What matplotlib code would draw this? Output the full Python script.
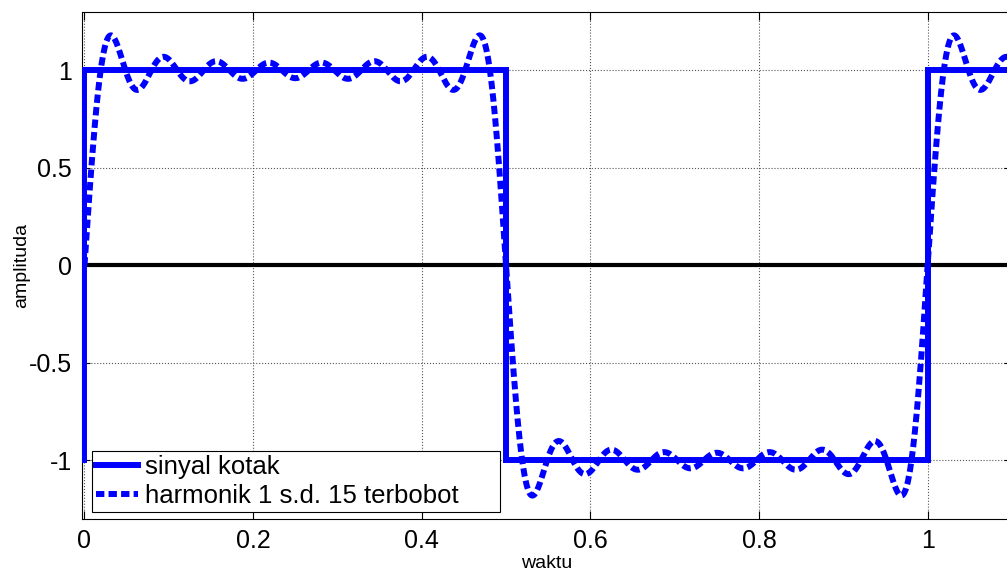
import numpy as np
import matplotlib
matplotlib.use("Agg")
import matplotlib.pyplot as plt

plt.rcParams['font.family'] = ['Liberation Sans', 'DejaVu Sans']

# sinyal kotak (titik sudut)
waktu_kotak = [0, 0, 0.5, 0.5, 1.0, 1.0, 1.1]
nilai_kotak = [-1, 1, 1, -1, -1, 1, 1]

# harmonik ganjil 1 s.d. 15 dan bobotnya (4/(pi*k))
harmonik = [1, 3, 5, 7, 9, 11, 13, 15]
bobot = [1.2732, 0.4244, 0.2546, 0.1819, 0.1415, 0.1157, 0.0979, 0.0849]

x_ticks = [0, 0.2, 0.4, 0.6, 0.8, 1.0]
x_labels = ['0', '0.2', '0.4', '0.6', '0.8', '1']
y_ticks = [-1, -0.5, 0, 0.5, 1]
y_labels = ['-1', '-0.5', '0', '0.5', '1']

t = np.linspace(0, 1.1, 1101)
y = np.zeros_like(t)
for k, b in zip(harmonik, bobot):
    y += b * np.sin(2 * np.pi * k * t)

fig = plt.figure(figsize=(10.07, 5.72), dpi=100)
ax = fig.add_axes([0.0814, 0.0927, 0.9235, 0.8864])

ax.plot(waktu_kotak, nilai_kotak, color=(0, 0, 1), lw=4.3,
        solid_joinstyle='miter', label='sinyal kotak', zorder=3)
ax.plot(t, y, color=(0, 0, 1), lw=4.3, linestyle=(0, (1.4, 0.7)),
        dash_capstyle='butt', label='harmonik 1 s.d. 15 terbobot', zorder=4)
ax.axhline(0, color='black', lw=3, zorder=2)

ax.set_xlim(-0.003, 1.1)
ax.set_ylim(-1.3, 1.3)
ax.set_xticks(x_ticks)
ax.set_xticklabels(x_labels)
ax.set_yticks(y_ticks)
ax.set_yticklabels(y_labels)
ax.tick_params(direction='in', length=6, width=0.8, labelsize=18, pad=7,
               top=True, right=True)
ax.grid(True, linestyle=':', color='#555555', lw=0.8)
for s in ax.spines.values():
    s.set_linewidth(0.8)

ax.set_xlabel('waktu', fontsize=14)
ax.set_ylabel('amplituda', fontsize=14)
ax.xaxis.set_label_coords(0.5, -0.072)
ax.yaxis.set_label_coords(-0.056, 0.5)

leg = ax.legend(loc='lower left', bbox_to_anchor=(0.0108, 0.0138, 0.4387, 0.136),
                mode='expand', fontsize=18.5, handlelength=1.65,
                handletextpad=0.25, labelspacing=0.2, borderpad=0.15,
                borderaxespad=0, fancybox=False, framealpha=1)
leg.get_frame().set_edgecolor('black')
leg.get_frame().set_linewidth(0.8)

fig.savefig('out.png', dpi=100)
